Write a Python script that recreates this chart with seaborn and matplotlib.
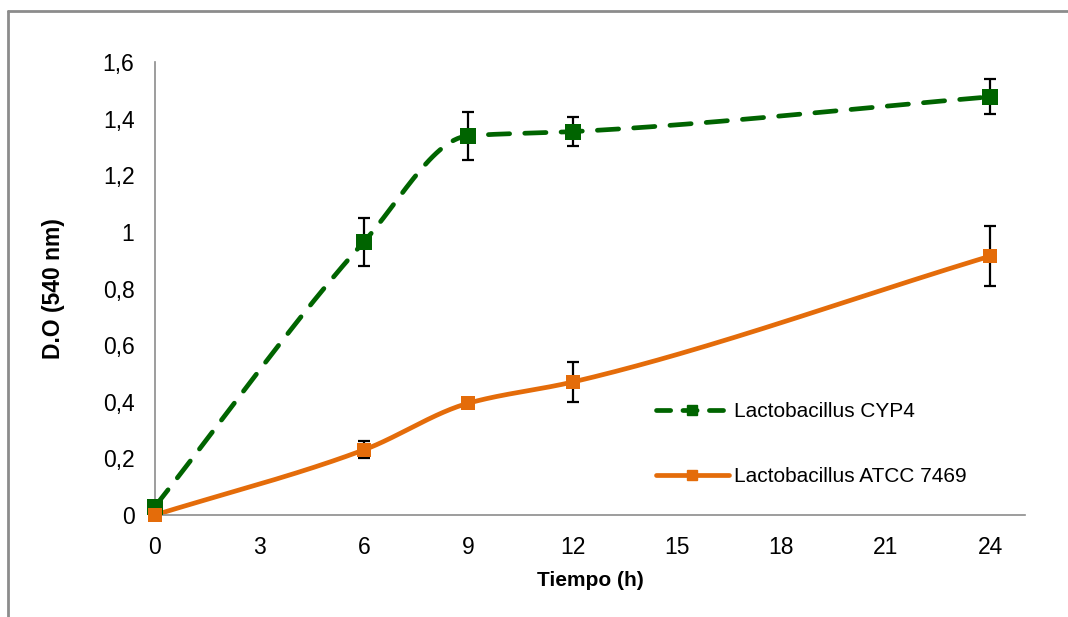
import numpy as np
import pandas as pd
import matplotlib
matplotlib.use("Agg")
import matplotlib.pyplot as plt
from matplotlib.lines import Line2D
from matplotlib.ticker import FuncFormatter, MultipleLocator
import seaborn as sns

# datos
tiempo = [0, 6, 9, 12, 24]
cyp4 = [0.03, 0.965, 1.34, 1.355, 1.478]
cyp4_err = [0.0, 0.085, 0.085, 0.05, 0.062]
atcc = [0.0, 0.23, 0.395, 0.47, 0.915]
atcc_err = [0.0, 0.03, 0.005, 0.07, 0.105]
series = ["Lactobacillus CYP4", "Lactobacillus ATCC 7469"]
colores = ["#006400", "#E46C0A"]


def suavizar(x, y, n=60):
    # curva suave sin sobreoscilación (Hermite monótono, Fritsch-Carlson)
    x = np.asarray(x, float)
    y = np.asarray(y, float)
    h = np.diff(x)
    d = np.diff(y) / h
    m = np.zeros_like(y)
    m[0], m[-1] = d[0], d[-1]
    for k in range(1, len(x) - 1):
        if d[k - 1] * d[k] > 0:
            w1 = 2 * h[k] + h[k - 1]
            w2 = h[k] + 2 * h[k - 1]
            m[k] = (w1 + w2) / (w1 / d[k - 1] + w2 / d[k])
    xs, ys = [], []
    for k in range(len(x) - 1):
        t = np.linspace(0, 1, n)
        h00 = 2 * t**3 - 3 * t**2 + 1
        h10 = t**3 - 2 * t**2 + t
        h01 = -2 * t**3 + 3 * t**2
        h11 = t**3 - t**2
        xs.extend(x[k] + t * h[k])
        ys.extend(h00 * y[k] + h10 * h[k] * m[k] + h01 * y[k + 1] + h11 * h[k] * m[k + 1])
    return np.array(xs), np.array(ys)


sns.set_style("white")
plt.rcParams["font.family"] = ["Liberation Sans", "DejaVu Sans"]
plt.rcParams["text.color"] = "black"
plt.rcParams["axes.labelcolor"] = "black"

fig = plt.figure(figsize=(10.68, 6.17), dpi=100)
ax = fig.add_axes([0.1451, 0.1653, 0.8146, 0.7337])

datos = [(cyp4, cyp4_err, "--", 11.5), (atcc, atcc_err, "-", 9.5)]
handles = []
for (vals, errs, ls, ms), nombre, col in zip(datos, series, colores):
    sx, sy = suavizar(tiempo, vals)
    curva = pd.DataFrame({"x": sx, "y": sy})
    sns.lineplot(data=curva, x="x", y="y", sort=False, estimator=None, ax=ax,
                 color=col, lw=3.4, linestyle=ls, zorder=2)
    linea = ax.lines[-1]
    linea.set_clip_on(False)
    if ls == "--":
        linea.set_dashes([4.5, 3.2])
        linea.set_dash_capstyle("round")
    ax.errorbar(tiempo, vals, yerr=errs, fmt="none", ecolor="black",
                elinewidth=1.6, capsize=4.3, capthick=1.6, zorder=3)
    sns.scatterplot(x=tiempo, y=vals, ax=ax, marker="s", s=ms ** 2,
                    color=col, edgecolor=col, linewidth=0, zorder=4,
                    clip_on=False)
    hd = Line2D([], [], color=col, lw=3.4, linestyle=ls, marker="s",
                markersize=6.5, label=nombre)
    if ls == "--":
        hd.set_dashes([3.0, 2.6])
        hd.set_dash_capstyle("round")
    else:
        hd.set_solid_capstyle("round")
    handles.append(hd)

ax.set_xlim(0, 25)
ax.set_ylim(0, 1.6)
ax.xaxis.set_major_locator(MultipleLocator(3))
ax.yaxis.set_major_locator(MultipleLocator(0.2))
ax.yaxis.set_major_formatter(FuncFormatter(lambda v, p: f"{v:.1f}".rstrip("0").rstrip(".").replace(".", ",")))

for s in ["top", "right"]:
    ax.spines[s].set_visible(False)
for s in ["left", "bottom"]:
    ax.spines[s].set_color("#8c8c8c")
    ax.spines[s].set_linewidth(1.2)
ax.tick_params(axis="both", which="major", direction="out", length=5.8, width=1.2,
               color="#8c8c8c", labelsize=16.5, labelcolor="black")
ax.tick_params(axis="y", pad=9)
ax.tick_params(axis="x", pad=9)

ax.set_xlabel("Tiempo (h)", fontsize=15, fontweight="bold", labelpad=9)
ax.set_ylabel("D.O (540 nm)", fontsize=16.5, fontweight="bold", labelpad=27)

ax.legend(handles=handles, loc="center left", bbox_to_anchor=(0.566, 0.157),
          frameon=False, fontsize=15, handlelength=3.5, labelspacing=2.2,
          handletextpad=0.25, borderaxespad=0)

# marco del área del gráfico (estilo Excel)
fig.add_artist(Line2D([0.0075, 0.0075], [0.0, 0.982], color="#8c8c8c", lw=2,
                      transform=fig.transFigure))
fig.add_artist(Line2D([0.0075, 1.0], [0.982, 0.982], color="#8c8c8c", lw=2,
                      transform=fig.transFigure))

fig.savefig("out.png", dpi=100)
